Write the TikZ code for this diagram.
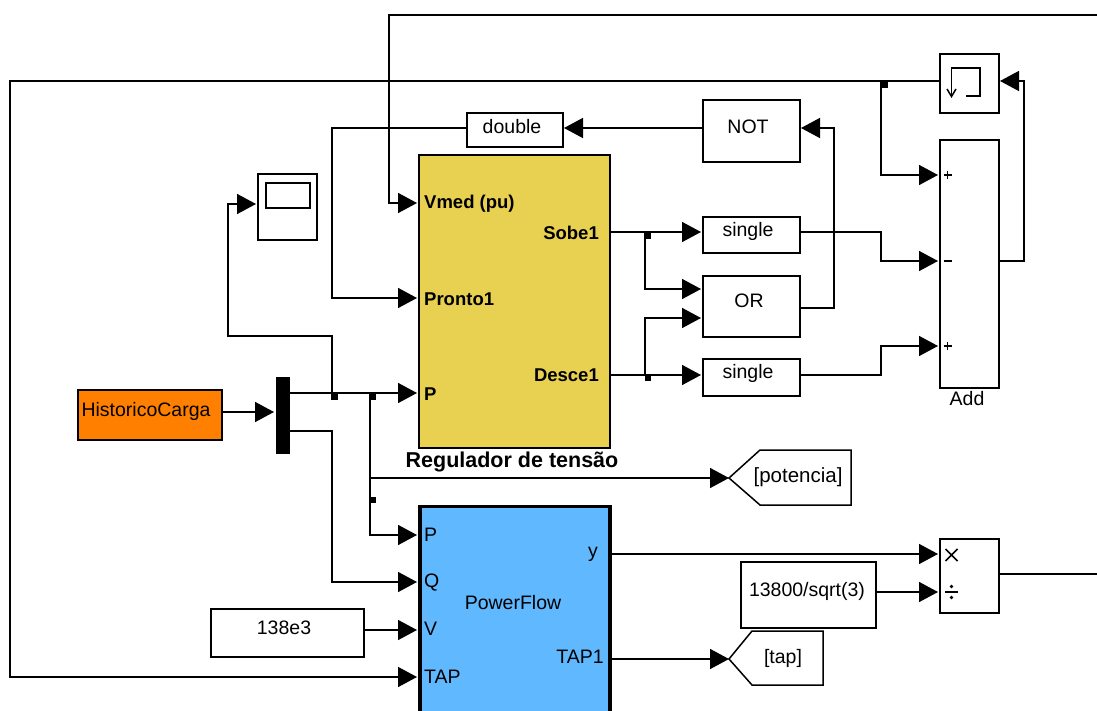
\documentclass[tikz,border=0pt]{standalone}
\usepackage{fontspec}
\setmainfont{Liberation Sans}
\usetikzlibrary{arrows.meta}

\tikzset{
    bloco/.style={draw,line width=1.5pt,fill=white,inner sep=0pt,outer sep=0pt,anchor=north west},
    sinal/.style={line width=1.5pt,-{Triangle[length=19pt,width=20pt]},shorten >=2pt},
    fio/.style={line width=1.5pt},
    traco/.style={line width=1.6pt},
    juncao/.style={fill=black,inner sep=0pt,minimum size=6.5pt},
    rotulo/.style={font=\fontsize{19.5}{22}\selectfont,inner sep=0pt,yshift=-1.5pt},
    negrito/.style={font=\fontsize{18.5}{22}\selectfont\bfseries,inner sep=0pt,yshift=-1pt}
}

\begin{document}
\begin{tikzpicture}[x=1pt,y=-1pt]
\useasboundingbox (0,0) rectangle (1097,711);
\clip (0,0) rectangle (1097,711);

% Main blocks
\node[bloco,fill={rgb,255:red,232;green,208;blue,80},minimum width=191pt,minimum height=293pt] (regulador) at (419,155) {};
\node[bloco,fill={rgb,255:red,96;green,184;blue,255},line width=3.2pt,minimum width=190pt,minimum height=230pt] (powerflow) at (420,506.5) {};
\node[bloco,fill={rgb,255:red,255;green,128;blue,0},minimum width=144pt,minimum height=50pt] (historico) at (78,390) {};
\node[bloco,fill=black,minimum width=13pt,minimum height=75pt] (mux) at (276.5,378) {};

% Small blocks
\node[bloco,minimum width=59pt,minimum height=66pt] (scope) at (258,174) {};
\node[bloco,minimum width=44pt,minimum height=25pt] (tela) at (266,183) {};
\node[bloco,minimum width=96pt,minimum height=34pt] (double) at (467,113) {};
\node[bloco,minimum width=97pt,minimum height=62pt] (not) at (703,100) {};
\node[bloco,minimum width=97pt,minimum height=36pt] (singleA) at (703,217) {};
\node[bloco,minimum width=97pt,minimum height=61pt] (or) at (703,276) {};
\node[bloco,minimum width=97pt,minimum height=37pt] (singleB) at (703,359) {};
\node[bloco,minimum width=59pt,minimum height=248pt] (add) at (940,140) {};
\node[bloco,minimum width=59pt,minimum height=59pt] (rele) at (940,54) {};
\node[bloco,minimum width=59pt,minimum height=74pt] (produto) at (940,539) {};
\node[bloco,minimum width=135pt,minimum height=66pt] (tensao) at (741,562) {};
\node[bloco,minimum width=153pt,minimum height=48pt] (vfonte) at (211,609) {};

% Goto tags
\draw[fio,fill=white] (729,478) -- (760,450) -- (851,450) -- (851,505) -- (760,505) -- cycle;
\draw[fio,fill=white] (729,659) -- (752,631) -- (823,631) -- (823,685) -- (752,685) -- cycle;

% Ports
\coordinate (regV) at (419,203);
\coordinate (regPronto) at (419,298);
\coordinate (regP) at (419,393);
\coordinate (regSobe) at (610,232);
\coordinate (regDesce) at (610,375);
\coordinate (pfP) at (419,535);
\coordinate (pfQ) at (419,582);
\coordinate (pfV) at (419,630);
\coordinate (pfTap) at (419,677);
\coordinate (pfY) at (610,554);
\coordinate (pfTapOut) at (610,659);
\coordinate (gotoPot) at (731,478);
\coordinate (gotoTap) at (731,659);
\coordinate (addA) at (940,175);
\coordinate (addB) at (940,261);
\coordinate (addC) at (940,346);
\coordinate (addOut) at (999,261);
\coordinate (releIn) at (998,81);
\coordinate (releOut) at (940,81);
\coordinate (prodA) at (940,554);
\coordinate (prodB) at (940,592);
\coordinate (prodOut) at (999,574);
\coordinate (orA) at (703,289);
\coordinate (orB) at (703,318);
\coordinate (orOut) at (800,308);
\coordinate (notIn) at (799,128);
\coordinate (notOut) at (703,128);
\coordinate (doubleIn) at (562,128);
\coordinate (doubleOut) at (467,128);
\coordinate (singleAIn) at (703,232);
\coordinate (singleAOut) at (800,232);
\coordinate (singleBIn) at (703,375);
\coordinate (singleBOut) at (800,375);
\coordinate (scopeIn) at (258,204);
\coordinate (muxIn) at (276,412);
\coordinate (muxA) at (289,393);
\coordinate (muxB) at (289,431);
\coordinate (histOut) at (222,412);
\coordinate (vfonteOut) at (364,630);
\coordinate (tensaoOut) at (876,592);

% Signals
\draw[sinal] (1097,15) -- (389,15) -- (389,203) -- (regV);
\draw[sinal] (releOut) -- (10,81) -- (10,677) -- (pfTap);
\draw[sinal] (881,81) -- (881,175) -- (addA);
\draw[sinal] (addOut) -- (1024,261) -- (1024,81) -- (releIn);
\draw[sinal] (singleAOut) -- (881,232) -- (881,261) -- (addB);
\draw[sinal] (singleBOut) -- (881,375) -- (881,346) -- (addC);
\draw[sinal] (orOut) -- (834,308) -- (834,128) -- (notIn);
\draw[sinal] (notOut) -- (doubleIn);
\draw[sinal] (doubleOut) -- (332,128) -- (332,298) -- (regPronto);
\draw[sinal] (regSobe) -- (singleAIn);
\draw[sinal] (645,232) -- (645,289) -- (orA);
\draw[sinal] (regDesce) -- (singleBIn);
\draw[sinal] (645,375) -- (645,318) -- (orB);
\draw[sinal] (histOut) -- (muxIn);
\draw[sinal] (muxA) -- (regP);
\draw[sinal] (332,393) -- (332,336) -- (228,336) -- (228,204) -- (scopeIn);
\draw[sinal] (370,393) -- (370,535) -- (pfP);
\draw[sinal] (370,478) -- (gotoPot);
\draw[sinal] (muxB) -- (332,431) -- (332,582) -- (pfQ);
\draw[sinal] (vfonteOut) -- (pfV);
\draw[sinal] (pfY) -- (prodA);
\draw[sinal] (tensaoOut) -- (prodB);
\draw[sinal] (pfTapOut) -- (gotoTap);
\draw[fio] (prodOut) -- (1097,574);

% Junction dots
\foreach \nome/\x/\y in {jA/884.5/84.5,jB/648/235.5,jC/648/378,jD/334.5/396.5,jE/373/396.5,jF/373/500}
    \node[juncao] (\nome) at (\x,\y) {};

% Relay icon
\draw[fio] (966,96) -- (980,96) -- (980,68) -- (951.5,68) -- (951.5,96);
\draw[fio] (947,89) -- (951.5,96.5) -- (956,89);

% Add signs
\foreach \y in {175,346}
    \draw[traco] (943.5,\y) -- (951.5,\y) (947.5,\y-4) -- (947.5,\y+4);
\draw[traco] (943.5,261) -- (952,261);

% Product signs
\draw[traco] (945.5,549) -- (957.5,561) (945.5,561) -- (957.5,549);
\draw[traco] (945,592) -- (958,592);
\fill (951.5,586.5) circle (1.8) (951.5,597.5) circle (1.8);

% Labels
\node[rotulo] (tHist) at (146,410) {HistoricoCarga};
\node[rotulo] (tDouble) at (512,125) {double};
\node[rotulo] (tNot) at (748,125) {NOT};
\node[rotulo] (tSingleA) at (748,229.5) {single};
\node[rotulo] (tOr) at (749,299) {OR};
\node[rotulo] (tSingleB) at (748,371.5) {single};
\node[rotulo] (tAdd) at (967,397.5) {Add};
\node[rotulo,font=\fontsize{20.5}{22}\selectfont] (tPot) at (798,476) {[potencia]};
\node[rotulo] (tTap) at (783,657) {[tap]};
\node[rotulo] (tTensao) at (807,589.5) {13800/sqrt(3)};
\node[rotulo] (tFonte) at (284,626.5) {138e3};
\node[rotulo] (tPower) at (513,601.5) {PowerFlow};
\node[rotulo,anchor=west] (tP) at (424,533) {P};
\node[rotulo,anchor=west] (tQ) at (424,581.5) {Q};
\node[rotulo,anchor=west] (tV) at (424,627.5) {V};
\node[rotulo,anchor=west] (tTapIn) at (424,675.5) {TAP};
\node[rotulo,anchor=east] (tY) at (598,552.5) {y};
\node[rotulo,anchor=east] (tTapOut) at (604,655.5) {TAP1};

\node[negrito,anchor=west] (tVmed) at (424,203) {Vmed (pu)};
\node[negrito,anchor=west] (tPronto) at (424,298) {Pronto1};
\node[negrito,anchor=west] (tPreg) at (424,393) {P};
\node[negrito,anchor=east] (tSobe) at (599,232) {Sobe1};
\node[negrito,anchor=east] (tDesce) at (599,374) {Desce1};
\node[negrito,font=\fontsize{21.5}{24}\selectfont\bfseries] (tReg) at (512,460.5) {Regulador de tensão};

\end{tikzpicture}
\end{document}
